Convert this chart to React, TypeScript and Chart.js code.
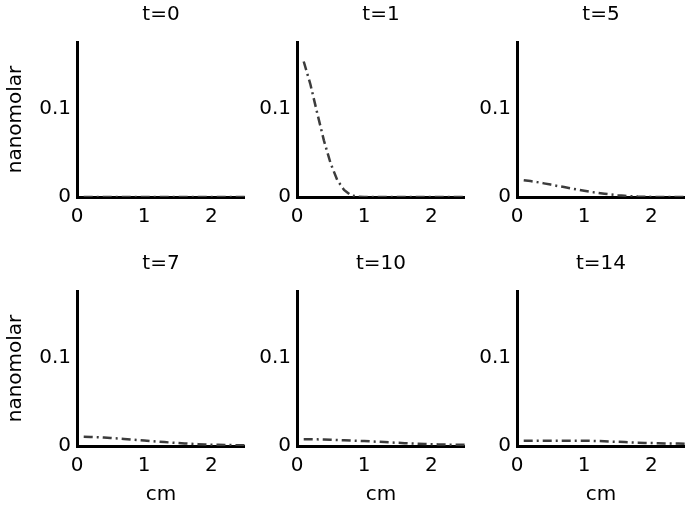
import React, { useEffect, useRef } from "react";
import { Chart, registerables } from "chart.js";

Chart.register(...registerables);

// ---- data ----
const positionsCm = [
  0.1, 0.2, 0.3, 0.4, 0.5, 0.6, 0.7, 0.8, 0.9, 1.0,
  1.1, 1.2, 1.3, 1.4, 1.5, 1.6, 1.7, 1.8, 1.9, 2.0,
  2.1, 2.2, 2.3, 2.4, 2.5,
];
const concT0 = [
  0, 0, 0, 0, 0, 0, 0, 0, 0, 0,
  0, 0, 0, 0, 0, 0, 0, 0, 0, 0,
  0, 0, 0, 0, 0,
];
const concT1 = [
  0.153, 0.127, 0.095, 0.064, 0.038, 0.019, 0.008, 0.002, 0.0005, 0,
  0, 0, 0, 0, 0, 0, 0, 0, 0, 0,
  0, 0, 0, 0, 0,
];
const concT5 = [
  0.019, 0.018, 0.0168, 0.0154, 0.014, 0.0125, 0.0112, 0.0098, 0.0084, 0.0071,
  0.0058, 0.0047, 0.0037, 0.0028, 0.002, 0.0014, 0.0009, 0.0005, 0.0003, 0.0001,
  0, 0, 0, 0, 0,
];
const concT7 = [
  0.0105, 0.0103, 0.01, 0.0096, 0.0091, 0.0086, 0.008, 0.0074, 0.0068, 0.0062,
  0.0056, 0.005, 0.0044, 0.0039, 0.0034, 0.0029, 0.0025, 0.0021, 0.0018, 0.0015,
  0.0013, 0.0011, 0.001, 0.0009, 0.0008,
];
const concT10 = [
  0.0076, 0.0076, 0.0075, 0.0073, 0.0071, 0.0068, 0.0065, 0.0062, 0.0059, 0.0056,
  0.0052, 0.0048, 0.0044, 0.004, 0.0036, 0.0032, 0.0028, 0.0025, 0.0022, 0.002,
  0.0018, 0.0016, 0.0015, 0.0014, 0.0013,
];
const concT14 = [
  0.0058, 0.0059, 0.006, 0.006, 0.006, 0.006, 0.006, 0.006, 0.006, 0.006,
  0.0058, 0.0056, 0.0053, 0.005, 0.0047, 0.0044, 0.0041, 0.0038, 0.0035, 0.0033,
  0.0031, 0.0029, 0.0028, 0.0027, 0.0026,
];
const panelTitles = ["t=0", "t=1", "t=5", "t=7", "t=10", "t=14"];
const panelSeries = [concT0, concT1, concT5, concT7, concT10, concT14];
const xTickValues = [0, 1, 2];
const yTickValues = [0, 0.1];
const X_MIN = 0;
const X_MAX = 2.5;
const Y_MIN = 0;
const Y_MAX = 0.175;
const yAxisLabel = "nanomolar";
const xAxisLabel = "cm";

// ---- layout ----
const FONT_FAMILY = "'DejaVu Sans', 'Liberation Sans', Arial, sans-serif";
const Y_SCALE_W = 77;
const PLOT_W = 168;
const PLOT_H = 155;
const TOP_SPACE = 42;
const X_SCALE_H = 62;
const COL_LEFT = [77, 297, 517];
const ROW_TOP = [42, 291];

type PanelProps = {
  title: string;
  values: number[];
  showYTitle: boolean;
  showXTitle: boolean;
  left: number;
  top: number;
};

function Panel({ title, values, showYTitle, showXTitle, left, top }: PanelProps) {
  const ref = useRef<HTMLCanvasElement | null>(null);
  const width = Y_SCALE_W + PLOT_W;
  const height = TOP_SPACE + PLOT_H + X_SCALE_H;

  useEffect(() => {
    if (!ref.current) return;
    const font = { family: FONT_FAMILY, size: 20, weight: "normal" as const };
    const chart = new Chart(ref.current, {
      type: "line",
      data: {
        datasets: [
          {
            data: positionsCm.map((x, i) => ({ x, y: values[i] })),
            borderColor: "#3c3c3c",
            borderWidth: 2.5,
            borderDash: [9, 4, 2, 4],
            pointRadius: 0,
            fill: false,
            tension: 0,
          },
        ],
      },
      options: {
        animation: false,
        responsive: false,
        maintainAspectRatio: false,
        devicePixelRatio: 1,
        layout: { padding: 0 },
        plugins: {
          legend: { display: false },
          tooltip: { enabled: false },
          title: {
            display: true,
            fullSize: false,
            text: title,
            color: "#000",
            font,
            padding: { top: 3, bottom: 15 },
          },
        },
        scales: {
          x: {
            type: "linear",
            min: X_MIN,
            max: X_MAX,
            afterBuildTicks: (s: any) => {
              s.ticks = xTickValues.map((v) => ({ value: v }));
            },
            afterFit: (s: any) => {
              s.height = X_SCALE_H;
            },
            grid: { display: false, drawTicks: false },
            border: { display: true, color: "#000", width: 3 },
            ticks: {
              color: "#000",
              font,
              padding: 8,
              maxRotation: 0,
              autoSkip: false,
              callback: (v: any) => String(v),
            },
            title: {
              display: showXTitle,
              text: xAxisLabel,
              color: "#000",
              font,
              padding: { top: 0, bottom: 1 },
            },
          },
          y: {
            type: "linear",
            min: Y_MIN,
            max: Y_MAX,
            afterBuildTicks: (s: any) => {
              s.ticks = yTickValues.map((v) => ({ value: v }));
            },
            afterFit: (s: any) => {
              s.width = Y_SCALE_W;
            },
            grid: { display: false, drawTicks: false },
            border: { display: true, color: "#000", width: 3 },
            ticks: {
              color: "#000",
              font,
              padding: 6,
              autoSkip: false,
              callback: (v: any) => String(v),
            },
            title: {
              display: showYTitle,
              text: yAxisLabel,
              color: "#000",
              font,
              padding: { top: 3.5, bottom: 0 },
            },
          },
        },
      } as any,
    });
    return () => chart.destroy();
  }, [title, values, showYTitle, showXTitle]);

  return (
    <canvas
      ref={ref}
      width={width}
      height={height}
      style={{
        position: "absolute",
        left: left - Y_SCALE_W,
        top: top - TOP_SPACE,
        width,
        height,
      }}
    />
  );
}

export default function App() {
  return (
    <div
      style={{
        position: "fixed",
        left: 0,
        top: 0,
        width: 688,
        height: 508,
        background: "#fff",
        overflow: "hidden",
      }}
    >
      {panelTitles.map((t, i) => {
        const row = Math.floor(i / 3);
        const col = i % 3;
        return (
          <Panel
            key={t}
            title={t}
            values={panelSeries[i]}
            showYTitle={col === 0}
            showXTitle={row === 1}
            left={COL_LEFT[col]}
            top={ROW_TOP[row]}
          />
        );
      })}
    </div>
  );
}
